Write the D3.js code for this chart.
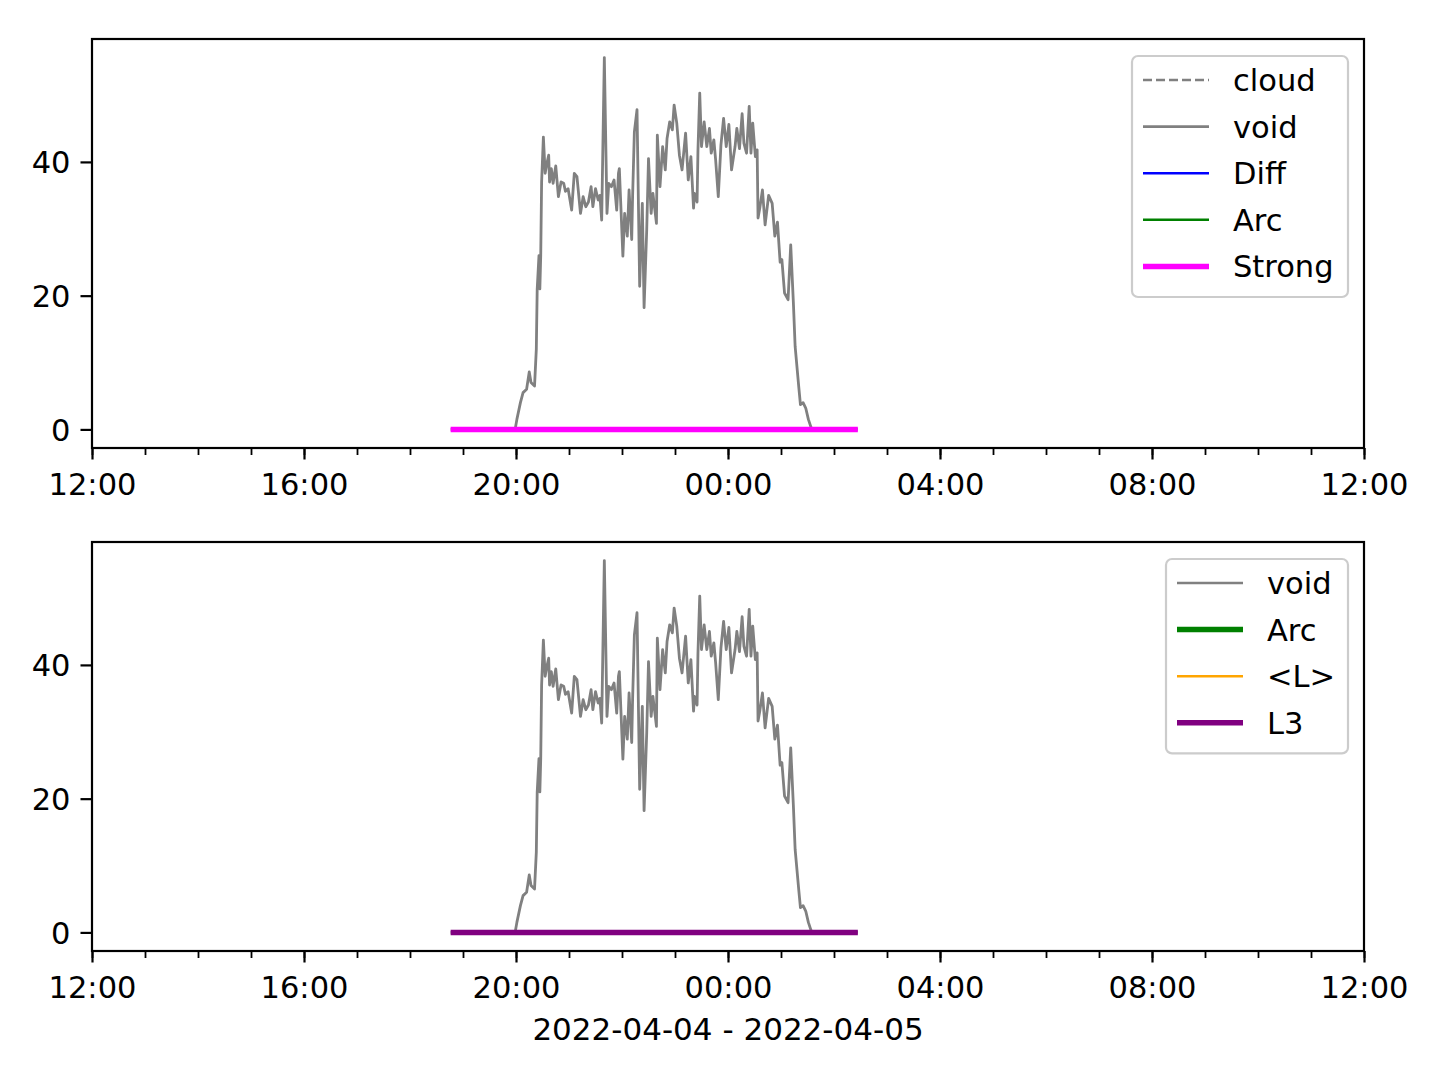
<!DOCTYPE html>
<html>
<head>
<meta charset="utf-8">
<script src="https://cdn.jsdelivr.net/npm/d3@7"></script>
<style>
  body { margin: 0; background: #fff; }
  text { font-family: "DejaVu Sans", sans-serif; }
</style>
</head>
<body>
<script>
const w = 1440;
const h = 1080;
const margin = { left: 92, right: 76 };

const startTime = new Date(2022, 3, 4, 12, 0);
const endTime = new Date(2022, 3, 5, 12, 0);

// minutes after 2022-04-04 12:00
const voidMinutes = [406, 479, 481, 485, 488, 492, 495, 497, 501, 503, 504, 506, 507, 508, 509, 511,
  513, 515, 517, 518, 520, 522, 525, 528, 531, 534, 536, 539, 543, 546, 549, 553, 556, 559, 562, 565,
  567, 570, 573, 575, 577, 580, 583, 585, 588, 591, 594, 596, 597, 601, 603, 606, 608, 611, 612, 614,
  617, 620, 623, 625, 628, 630, 633, 635, 639, 640, 643, 646, 649, 651, 654, 657, 659, 662, 665, 668,
  672, 675, 678, 681, 682, 685, 686, 688, 690, 693, 696, 699, 701, 704, 706, 709, 712, 715, 718, 721,
  724, 728, 730, 733, 736, 738, 741, 744, 746, 748, 751, 753, 754, 756, 759, 762, 766, 770, 773, 776,
  779, 781, 784, 786, 788, 791, 794, 796, 800, 802, 805, 808, 811, 814, 815, 867];
const voidValues = [0, 0, 1.5, 4, 5.5, 6, 8.6, 7, 6.5, 12, 21, 26, 21, 26, 37, 43.7,
  38.3, 39.8, 41, 37, 39, 36.8, 39.4, 34.8, 37, 36.8, 35.6, 36, 32.8, 38.3, 37.8, 32.3, 34.8, 33.3, 34, 36.3,
  33.3, 36, 34.3, 35, 31.3, 55.6, 32.3, 36.8, 36.3, 37.3, 32.8, 38.3, 39, 25.9, 32.3, 28.9, 35.8, 28.4, 34.8, 44.5,
  47.8, 21.4, 33.8, 18.2, 29.9, 40.5, 32.3, 35.3, 30.8, 44, 36.3, 42.3, 38.8, 43.5, 46, 44.8, 48.5, 45.8, 41, 38.8,
  44.3, 37.3, 40.8, 33.1, 35.3, 34, 41.8, 50.3, 42.3, 46, 42.3, 45, 41.3, 43.3, 40.3, 34.8, 42.5, 46.5, 42.3, 45.6,
  38.8, 42.3, 45, 42, 47.2, 42.8, 41.3, 48.3, 41.3, 45.8, 40.8, 41.8, 31.6, 33.1, 35.8, 30.6, 35, 33.8, 28.9, 31,
  25, 25.4, 20.4, 19.9, 19.4, 27.6, 19, 12.4, 6.5, 3.7, 4, 3.2, 1.5, 0.3, 0, 0];

// flat "Strong" (top) and "L3" (bottom) span
const flatMinutes = [406, 867];
const flatValues = [0, 0];

const yTickValues = [0, 20, 40];
const xLabel = '2022-04-04 - 2022-04-05';

const topLegend = [
  { name: 'cloud', color: 'gray', width: 2.6, dash: '9,4' },
  { name: 'void', color: 'gray', width: 2.6 },
  { name: 'Diff', color: 'blue', width: 2.6 },
  { name: 'Arc', color: 'green', width: 2.6 },
  { name: 'Strong', color: 'magenta', width: 5.5 }
];
const bottomLegend = [
  { name: 'void', color: 'gray', width: 2.6 },
  { name: 'Arc', color: 'green', width: 5.5 },
  { name: '<L>', color: 'orange', width: 2.6 },
  { name: 'L3', color: 'purple', width: 5.5 }
];

const toDate = (m) => new Date(startTime.getTime() + m * 60000);
const voidData = voidMinutes.map((m, i) => ({ t: toDate(m), v: voidValues[i] }));
const flatData = flatMinutes.map((m, i) => ({ t: toDate(m), v: flatValues[i] }));

const svg = d3.select('body').append('svg')
  .attr('width', w)
  .attr('height', h);

const xScale = d3.scaleTime().domain([startTime, endTime]).range([margin.left, w - margin.right]);

function drawPanel(top, bottom, flatColor, legendItems, legendX) {
  const yScale = d3.scaleLinear().domain([-2.78, 58.38]).range([bottom, top]);
  const g = svg.append('g');

  const line = d3.line().x((d) => xScale(d.t)).y((d) => yScale(d.v));

  g.append('path')
    .datum(voidData)
    .attr('d', line)
    .attr('fill', 'none')
    .attr('stroke', 'gray')
    .attr('stroke-width', 2.8)
    .attr('stroke-linejoin', 'round');

  g.append('path')
    .datum(flatData)
    .attr('d', line)
    .attr('fill', 'none')
    .attr('stroke', flatColor)
    .attr('stroke-width', 5.5);

  // minor hour ticks
  const minorAxis = d3.axisBottom(xScale).ticks(d3.timeHour.every(1)).tickSize(7).tickFormat('');
  const minor = g.append('g').attr('transform', `translate(0, ${bottom})`).call(minorAxis);
  minor.select('.domain').remove();
  minor.selectAll('line').attr('stroke-width', 1.8);

  const xAxis = d3.axisBottom(xScale)
    .ticks(d3.timeHour.every(4))
    .tickSize(11.5)
    .tickPadding(12)
    .tickFormat(d3.timeFormat('%H:%M'));
  const xa = g.append('g').attr('transform', `translate(0, ${bottom})`).call(xAxis);
  xa.select('.domain').remove();
  xa.selectAll('line').attr('stroke-width', 2.2);
  xa.selectAll('text').attr('font-size', 30.5).attr('fill', '#000').attr('dy', '0.78em');

  const yAxis = d3.axisLeft(yScale).tickValues(yTickValues).tickSize(11.5).tickPadding(10);
  const ya = g.append('g').attr('transform', `translate(${margin.left}, 0)`).call(yAxis);
  ya.select('.domain').remove();
  ya.selectAll('line').attr('stroke-width', 2.2);
  ya.selectAll('text').attr('font-size', 30.5).attr('fill', '#000').attr('dy', '0.36em');

  g.append('rect')
    .attr('x', margin.left)
    .attr('y', top)
    .attr('width', w - margin.right - margin.left)
    .attr('height', bottom - top)
    .attr('fill', 'none')
    .attr('stroke', '#000')
    .attr('stroke-width', 2.2);

  // legend
  const rowH = 46.6;
  const lg = g.append('g').attr('transform', `translate(${legendX}, ${top + 17})`);
  lg.append('rect')
    .attr('x', 0)
    .attr('y', 0)
    .attr('width', 1348 - legendX)
    .attr('height', legendItems.length * rowH + 8)
    .attr('rx', 6)
    .attr('fill', 'white')
    .attr('fill-opacity', 0.8)
    .attr('stroke', '#cccccc')
    .attr('stroke-width', 2.2);
  const rows = lg.selectAll('g.item')
    .data(legendItems)
    .enter()
    .append('g')
    .attr('transform', (d, i) => `translate(0, ${24 + i * rowH})`);
  rows.append('line')
    .attr('x1', 11)
    .attr('x2', 77)
    .attr('stroke', (d) => d.color)
    .attr('stroke-width', (d) => d.width)
    .attr('stroke-dasharray', (d) => d.dash || null);
  rows.append('text')
    .attr('x', 101)
    .attr('dy', '0.36em')
    .attr('font-size', 30.5)
    .text((d) => d.name);
}

drawPanel(39, 448, 'magenta', topLegend, 1132);
drawPanel(542, 951, 'purple', bottomLegend, 1166);

svg.append('text')
  .attr('x', (margin.left + w - margin.right) / 2)
  .attr('y', 1040)
  .attr('text-anchor', 'middle')
  .attr('font-size', 31)
  .text(xLabel);
</script>
</body>
</html>
